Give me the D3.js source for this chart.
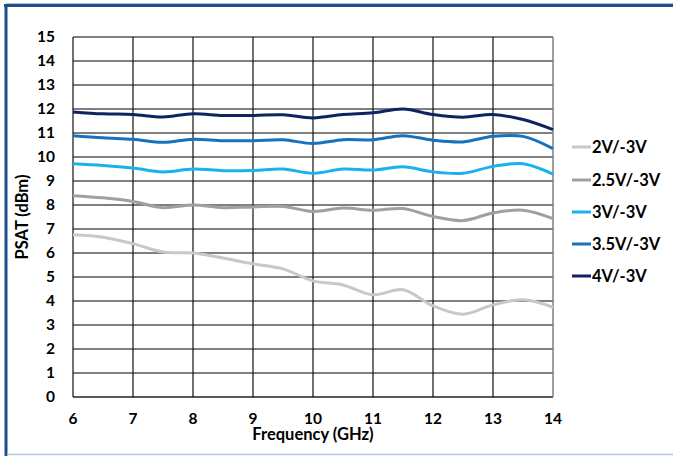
<!DOCTYPE html>
<html>
<head>
<meta charset="utf-8">
<script src="https://d3js.org/d3.v7.min.js"></script>
<style>
  body { margin: 0; background: #fff; }
  text { font-family: Lato, "Open Sans", sans-serif; font-weight: bold; fill: #000; }
</style>
</head>
<body>
<svg id="chart" width="673" height="456"></svg>
<script>
// frequency points (GHz)
const freqs = [6, 6.5, 7, 7.5, 8, 8.5, 9, 9.5, 10, 10.5, 11, 11.5, 12, 12.5, 13, 13.5, 14];

// PSAT (dBm) per bias condition
const v2  = [6.76, 6.66, 6.39, 6.04, 6.0, 5.79, 5.55, 5.34, 4.84, 4.67, 4.26, 4.47, 3.8, 3.45, 3.84, 4.05, 3.74];
const v25 = [8.39, 8.3, 8.15, 7.89, 8.0, 7.89, 7.92, 7.94, 7.73, 7.87, 7.78, 7.85, 7.52, 7.35, 7.67, 7.78, 7.43];
const v3  = [9.72, 9.65, 9.54, 9.38, 9.5, 9.43, 9.44, 9.5, 9.32, 9.5, 9.46, 9.59, 9.38, 9.32, 9.61, 9.72, 9.29];
const v35 = [10.89, 10.8, 10.74, 10.61, 10.74, 10.68, 10.68, 10.72, 10.56, 10.72, 10.72, 10.89, 10.7, 10.63, 10.86, 10.86, 10.35];
const v4  = [11.88, 11.8, 11.77, 11.67, 11.8, 11.73, 11.73, 11.76, 11.63, 11.77, 11.84, 12.0, 11.77, 11.66, 11.77, 11.56, 11.14];

const seriesNames = ["2V/-3V", "2.5V/-3V", "3V/-3V", "3.5V/-3V", "4V/-3V"];
const seriesData = [v2, v25, v3, v35, v4];
const seriesColors = ["#c8c8c8", "#a0a0a0", "#1ab2ee", "#1572c0", "#0d2461"];

const xTicks = [6, 7, 8, 9, 10, 11, 12, 13, 14];
const yTicks = d3.range(0, 16);

const svg = d3.select("#chart");

// outer frame
svg.append("line").attr("x1", 6).attr("x2", 673).attr("y1", 3.5).attr("y2", 3.5)
  .attr("stroke", "#a9c1dc").attr("stroke-width", 1);
svg.append("line").attr("x1", 4).attr("x2", 673).attr("y1", 5.5).attr("y2", 5.5)
  .attr("stroke", "#1f4e8c").attr("stroke-width", 3);
svg.append("line").attr("x1", 6).attr("x2", 6).attr("y1", 4).attr("y2", 456)
  .attr("stroke", "#1f4e8c").attr("stroke-width", 3);
svg.append("line").attr("x1", 7).attr("x2", 673).attr("y1", 454.5).attr("y2", 454.5)
  .attr("stroke", "#b4c6da").attr("stroke-width", 1.5);

const x = d3.scaleLinear().domain([6, 14]).range([73, 553]);
const y = d3.scaleLinear().domain([0, 15]).range([397, 37]);

// horizontal grid
svg.append("g").selectAll("line").data(yTicks).join("line")
  .attr("x1", x(6)).attr("x2", x(14))
  .attr("y1", d => y(d)).attr("y2", d => y(d))
  .attr("stroke", d => d === 0 ? "#222" : "#7f7f7f")
  .attr("stroke-width", d => d === 0 ? 1.5 : 2);

// vertical grid
svg.append("g").selectAll("line").data(xTicks).join("line")
  .attr("x1", d => x(d)).attr("x2", d => x(d))
  .attr("y1", y(15)).attr("y2", y(0))
  .attr("stroke", d => d === 14 ? "#7f7f7f" : "#111")
  .attr("stroke-width", d => d === 14 ? 1.5 : 1.2);

// y tick labels
svg.append("g").selectAll("text").data(yTicks).join("text")
  .attr("x", 55).attr("y", d => y(d)).attr("dy", "0.35em")
  .attr("text-anchor", "end").attr("font-size", 15.5)
  .text(d => d);

// x tick labels
svg.append("g").selectAll("text").data(xTicks).join("text")
  .attr("x", d => x(d)).attr("y", 419).attr("dy", "0.35em")
  .attr("text-anchor", "middle").attr("font-size", 15.5)
  .text(d => d);

svg.append("text").attr("x", (x(6) + x(14)) / 2).attr("y", 434).attr("dy", "0.35em")
  .attr("text-anchor", "middle").attr("font-size", 16.5)
  .text("Frequency (GHz)");

svg.append("text").attr("transform", `translate(22,${(y(0) + y(15)) / 2}) rotate(-90)`)
  .attr("dy", "0.35em").attr("text-anchor", "middle").attr("font-size", 16.5)
  .text("PSAT (dBm)");

// series lines
const line = d3.line()
  .x((d, i) => x(freqs[i]))
  .y(d => y(d))
  .curve(d3.curveCatmullRom);

svg.append("g").selectAll("path").data(seriesData).join("path")
  .attr("d", line)
  .attr("fill", "none")
  .attr("stroke", (d, i) => seriesColors[i])
  .attr("stroke-width", 3);

// legend
const legendY = [147, 180, 212, 244, 276];
const lg = svg.append("g").selectAll("g").data(seriesNames).join("g")
  .attr("transform", (d, i) => `translate(572,${legendY[i]})`);
lg.append("line").attr("x1", 0).attr("x2", 19).attr("y1", 0).attr("y2", 0)
  .attr("stroke", (d, i) => seriesColors[i]).attr("stroke-width", 3);
lg.append("text").attr("x", 20).attr("dy", "0.35em").attr("font-size", 16.5)
  .text(d => d);
</script>
</body>
</html>
